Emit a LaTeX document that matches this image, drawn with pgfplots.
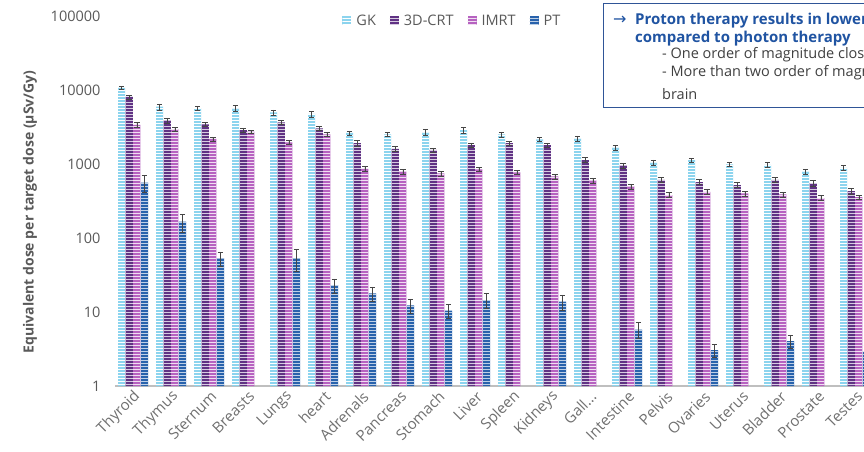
\documentclass[border=0pt]{standalone}
\usepackage{pgfplots}
\pgfplotsset{compat=1.18}
\usepackage{pgfplotstable}
\usetikzlibrary{patterns}
\usepackage{fontspec}
\setmainfont{Open Sans}
\newfontfamily\dejavu{DejaVu Sans}
\definecolor{cGK}{RGB}{140,212,238}
\definecolor{cCRT}{RGB}{96,50,132}
\definecolor{cIMRT}{RGB}{182,98,192}
\definecolor{cPT}{RGB}{40,98,172}
\definecolor{tgray}{RGB}{89,89,89}
\definecolor{xgray}{RGB}{112,112,112}
\definecolor{lgray}{RGB}{191,191,191}
\definecolor{boxblue}{RGB}{47,85,151}
\definecolor{txtblue}{RGB}{32,84,162}
\definecolor{dtext}{RGB}{64,64,64}
\definecolor{errc}{RGB}{70,70,70}

\pgfplotstableread{
x GK GKe CRT CRTe IMRT IMRTe PT PTe
0 10700 600 8100 500 3370 250 560 140
1 5950 550 3850 300 2950 200 166 45
2 5710 350 3440 250 2180 150 53 12
3 5650 550 2880 200 2730 120 nan nan
4 5000 400 3660 250 1960 120 53 18
5 4740 400 3030 200 2520 150 23 5
6 2630 150 1910 150 860 60 17.9 4
7 2520 150 1600 120 787 60 12.3 2.7
8 2680 250 1550 100 748 60 10.4 2.3
9 2870 250 1805 120 848 50 14.5 3.2
10 2520 200 1910 120 772 50 nan nan
11 2160 150 1805 120 680 50 13.8 3.2
12 2220 180 1130 90 600 50 nan nan
13 1660 120 950 70 500 40 5.8 1.4
14 1055 80 610 50 380 30 nan nan
15 1130 60 570 45 420 30 3.06 0.6
16 990 70 520 40 400 30 nan nan
17 970 80 608 50 390 30 4.05 0.85
18 787 60 550 45 347 25 nan nan
19 890 70 430 35 358 25 2.9 0.6
}\data

\begin{document}
\begin{tikzpicture}
\path[use as bounding box] (0pt,0pt) rectangle (864pt,451pt);
\clip (0pt,0pt) rectangle (864pt,451pt);
\begin{axis}[
  at={(115pt,65pt)}, anchor=south west,
  scale only axis, width=760pt, height=370pt,
  ymode=log, log basis y=10, ymin=1, ymax=100000,
  xmin=-0.474, xmax=19.526,
  ybar=0.4pt, bar width=7.2pt,
  ytick={1,10,100,1000,10000,100000},
  yticklabels={1,10,100,1000,10000,100000},
  xtick={0,1,2,3,4,5,6,7,8,9,10,11,12,13,14,15,16,17,18,19},
  xticklabels={Thyroid,Thymus,Sternum,Breasts,Lungs,heart,Adrenals,Pancreas,Stomach,Liver,Spleen,Kidneys,Gall{.}{.}{.},Intestine,Pelvis,Ovaries,Uterus,Bladder,Prostate,Testes},
  axis x line*=bottom, axis y line*=left,
  x axis line style={-, draw=lgray, line width=1.3pt},
  y axis line style={draw=none},
  major tick length=0pt,
  xtick style={draw=none}, ytick style={draw=none},
  /pgf/number format/assume math mode=true,
  yticklabel style={font=\fontsize{14.5}{16}\selectfont, text=tgray, xshift=-11pt},
  xticklabel style={font=\fontsize{15}{17}\selectfont, text=xgray, rotate=45, anchor=east, xshift=1pt, yshift=-9pt},
  ylabel={\bfseries Equivalent dose per target dose (µSv/Gy)},
  ylabel style={font=\fontsize{14}{16}\selectfont, text=tgray, at={(axis description cs:-0.112,0.47)}, anchor=center},
  error bars/error bar style={color=errc, line width=0.6pt},
  error bars/error mark options={rotate=90, mark size=2.8pt, color=errc, line width=0.6pt},
  legend columns=4,
  legend style={draw=none, fill=none, font=\fontsize{14.5}{16}\selectfont, text=tgray,
    at={(axis description cs:0.444,0.987)}, anchor=center,
    /tikz/every odd column/.append style={column sep=3pt},
    /tikz/every even column/.append style={column sep=12pt}},
  legend image code/.code={\fill[#1] (0pt,-4.5pt) rectangle (9pt,4.5pt);},
  every axis plot/.append style={draw=none},
]
\addplot[fill=cGK, postaction={pattern=horizontal lines, pattern color=white},
  error bars/.cd, y dir=both, y explicit] table[x=x, y=GK, y error=GKe] {\data};
\addlegendentry{GK}
\addplot[fill=cCRT, postaction={pattern=horizontal lines, pattern color=white!75!cCRT},
  error bars/.cd, y dir=both, y explicit] table[x=x, y=CRT, y error=CRTe] {\data};
\addlegendentry{3D-CRT}
\addplot[fill=cIMRT, postaction={pattern=horizontal lines, pattern color=white!80!cIMRT},
  error bars/.cd, y dir=both, y explicit] table[x=x, y=IMRT, y error=IMRTe] {\data};
\addlegendentry{IMRT}
\addplot[fill=cPT, postaction={pattern=horizontal lines, pattern color=white!70!cPT},
  error bars/.cd, y dir=both, y explicit] table[x=x, y=PT, y error=PTe] {\data};
\addlegendentry{PT}
\end{axis}
\draw[boxblue, line width=1pt, fill=white] (603pt,447pt) rectangle (960pt,344pt);
\node[anchor=base west, inner sep=0, text=txtblue, font=\fontsize{16}{18}\selectfont\dejavu] at (613pt,426pt) {→};
\node[anchor=base west, inner sep=0, text=txtblue, font=\fontsize{15}{17}\selectfont\bfseries] at (635pt,426pt) {Proton therapy results in lower out-of-field doses};
\node[anchor=base west, inner sep=0, text=txtblue, font=\fontsize{15}{17}\selectfont\bfseries] at (635pt,409pt) {compared to photon therapy};
\node[anchor=base west, inner sep=0, text=dtext, font=\fontsize{14.5}{16}\selectfont] at (662pt,392pt) {- One order of magnitude close to the target};
\node[anchor=base west, inner sep=0, text=dtext, font=\fontsize{14.5}{16}\selectfont] at (662pt,375pt) {- More than two order of magnitude far from the};
\node[anchor=base west, inner sep=0, text=dtext, font=\fontsize{14.5}{16}\selectfont] at (662pt,352pt) {brain};
\end{tikzpicture}
\end{document}
